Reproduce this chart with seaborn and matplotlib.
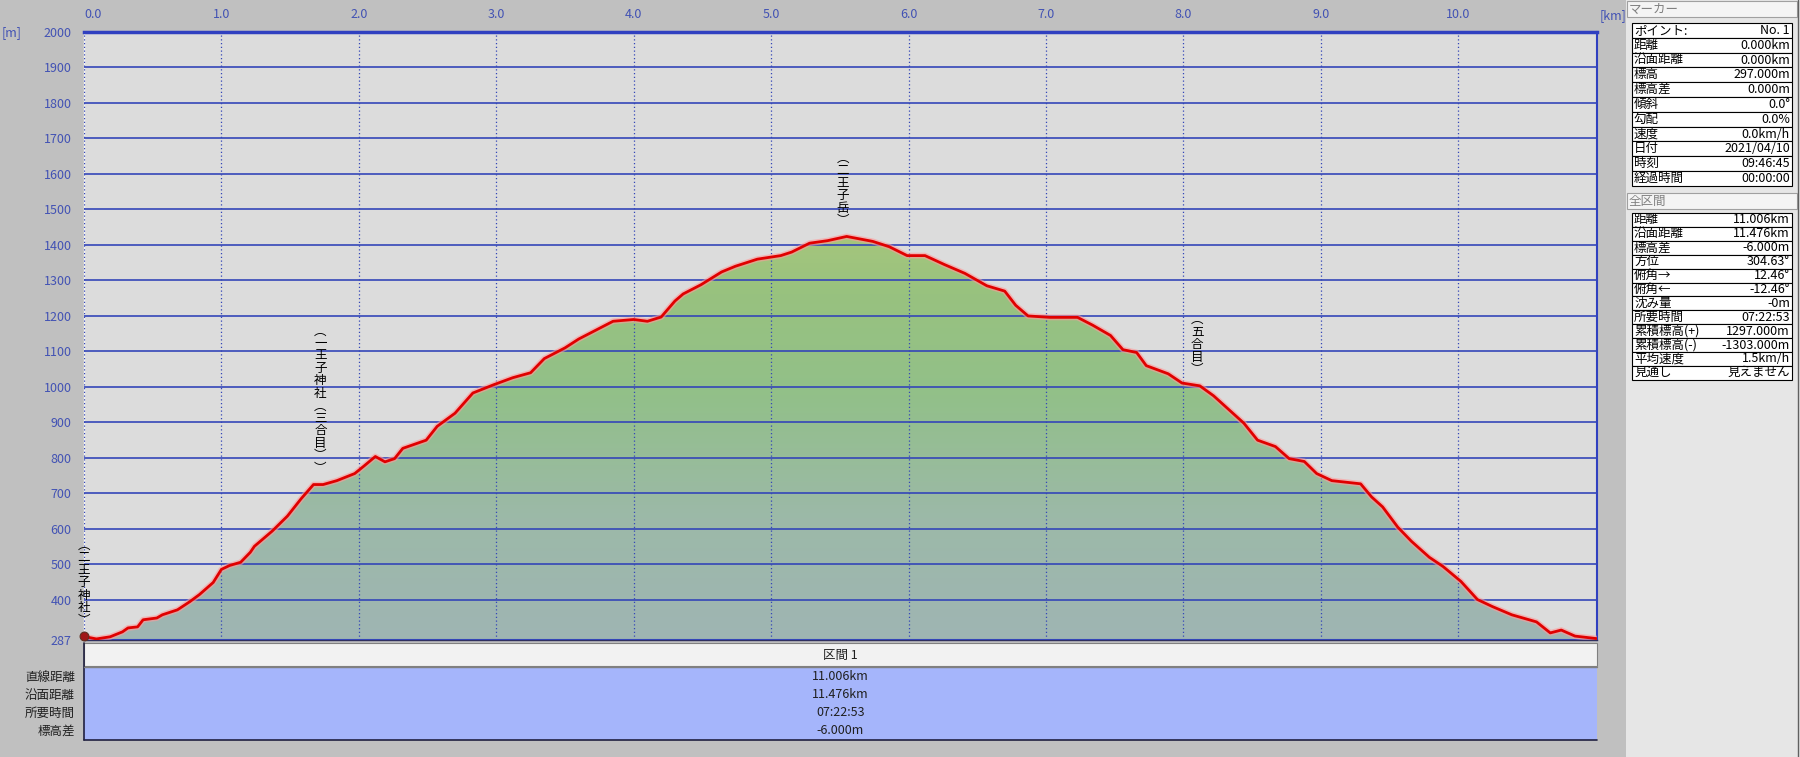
import numpy as np
import matplotlib
matplotlib.use("Agg")
import matplotlib.pyplot as plt
import seaborn as sns
from matplotlib.colors import LinearSegmentedColormap
from matplotlib.patches import Rectangle

# ---------------- data ----------------
dist_km = [0.0, 0.09, 0.19, 0.28, 0.32, 0.39, 0.43, 0.53, 0.57, 0.68, 0.77, 0.84, 0.94, 1.0,
           1.06, 1.14, 1.21, 1.24, 1.37, 1.48, 1.58, 1.67, 1.74, 1.84, 1.97, 2.04, 2.12, 2.19,
           2.26, 2.32, 2.49, 2.57, 2.70, 2.83, 2.98, 3.12, 3.25, 3.35, 3.5, 3.6, 3.75, 3.85,
           4.0, 4.1, 4.2, 4.30, 4.36, 4.49, 4.64, 4.74, 4.90, 5.07, 5.15, 5.28, 5.41, 5.55,
           5.74, 5.86, 5.99, 6.12, 6.26, 6.41, 6.57, 6.70, 6.78, 6.87, 7.03, 7.23, 7.34, 7.47,
           7.56, 7.66, 7.73, 7.89, 7.99, 8.12, 8.22, 8.36, 8.44, 8.54, 8.67, 8.77, 8.88, 8.97,
           9.08, 9.29, 9.37, 9.45, 9.56, 9.66, 9.79, 9.89, 10.02, 10.14, 10.25, 10.39, 10.57,
           10.67, 10.75, 10.85, 11.006]
elev_m = [297, 290, 296, 310, 321, 324, 344, 349, 358, 372, 395, 415, 449, 486,
          497, 506, 534, 551, 594, 636, 685, 725, 725, 736, 756, 778, 804, 789,
          798, 827, 850, 889, 926, 983, 1006, 1026, 1040, 1080, 1110, 1135, 1165, 1185,
          1190, 1185, 1197, 1242, 1262, 1288, 1324, 1340, 1360, 1370, 1380, 1405, 1412, 1424,
          1410, 1395, 1370, 1370, 1345, 1320, 1285, 1270, 1230, 1200, 1196, 1196, 1174, 1145,
          1105, 1097, 1060, 1037, 1011, 1003, 975, 926, 898, 850, 832, 798, 790, 756,
          736, 727, 690, 662, 605, 565, 520, 494, 452, 401, 381, 358, 338,
          307, 315, 298, 291]

poi_names = ["(二王子神社)", "(一王子神社(三合目))", "(二王子岳)", "(五合目)"]
poi_km = [0.0, 1.72, 5.52, 8.10]
poi_elev = [297, 725, 1422, 1003]

y_ticks = [287, 400, 500, 600, 700, 800, 900, 1000, 1100, 1200, 1300, 1400,
           1500, 1600, 1700, 1800, 1900, 2000]
x_ticks = [0, 1, 2, 3, 4, 5, 6, 7, 8, 9, 10]
x_tick_labels = ["0.0", "1.0", "2.0", "3.0", "4.0", "5.0", "6.0", "7.0", "8.0", "9.0", "10.0"]

marker_labels = ["ポイント:", "距離", "沿面距離", "標高", "標高差", "傾斜", "勾配", "速度",
                 "日付", "時刻", "経過時間"]
marker_values = ["No. 1", "0.000km", "0.000km", "297.000m", "0.000m", "0.0°", "0.0%",
                 "0.0km/h", "2021/04/10", "09:46:45", "00:00:00"]
total_labels = ["距離", "沿面距離", "標高差", "方位", "俯角→", "俯角←", "沈み量", "所要時間",
                "累積標高(+)", "累積標高(-)", "平均速度", "見通し"]
total_values = ["11.006km", "11.476km", "-6.000m", "304.63°", "12.46°", "-12.46°", "-0m",
                "07:22:53", "1297.000m", "-1303.000m", "1.5km/h", "見えません"]
section_title = "区間 1"
section_row_labels = ["直線距離", "沿面距離", "所要時間", "標高差"]
section_values = ["11.006km", "11.476km", "07:22:53", "-6.000m"]

# ---------------- style ----------------
sns.set_theme(style="white")
plt.rcParams["font.family"] = ["Noto Sans CJK JP", "DejaVu Sans"]

W, H = 1800, 757
fig = plt.figure(figsize=(W / 100, H / 100), dpi=100, facecolor="#c0c0c0")

TICK_BLUE = "#4252b4"
GRID_BLUE = "#3446b8"
FS = 9

# background / decoration axes in pixel coordinates
bg = fig.add_axes([0, 0, 1, 1])
bg.set_xlim(0, W)
bg.set_ylim(H, 0)
bg.axis("off")

# plot area pixel box
PL, PR, PT, PB = 84, 1597, 32, 640

# axis unit labels
bg.text(2, 33, "[m]", color=TICK_BLUE, fontsize=FS, va="center", ha="left")
bg.text(1600, 16, "[km]", color=TICK_BLUE, fontsize=FS, va="center", ha="left")

# section table below the plot
bg.add_patch(Rectangle((PL, 643), PR - PL, 23, fc="#f2f2f2", ec="#808080", lw=0.8))
bg.text((PL + PR) / 2, 655, section_title, fontsize=FS, ha="center", va="center", color="#202020")
bg.add_patch(Rectangle((PL, 667), PR - PL, 73, fc="#a5b5fb", ec="none"))
bg.plot([PL, PR], [740, 740], color="#202040", lw=1.2)
bg.plot([PL, PL], [643, 740], color="#202040", lw=1.2)
bg.plot([PL, PR], [667, 667], color="#808080", lw=1)
for i, (lab, val) in enumerate(zip(section_row_labels, section_values)):
    yc = 677 + i * 18
    bg.text(75, yc, lab, fontsize=FS, ha="right", va="center", color="#202020")
    bg.text((PL + PR) / 2, yc, val, fontsize=FS, ha="center", va="center", color="#202020")

# right panel
bg.add_patch(Rectangle((1626, 0), W - 1626, H, fc="#e6e6e6", ec="none"))


def header(y0, text):
    bg.add_patch(Rectangle((1627, y0), 170, 16, fc="#f4f4f4", ec="#a0a0a0", lw=0.8))
    bg.text(1629, y0 + 8.5, text, fontsize=FS, color="#808080", ha="left", va="center")


def table(top, rowh, labels, values):
    for i, (lab, val) in enumerate(zip(labels, values)):
        y0 = top + i * rowh
        bg.add_patch(Rectangle((1632, y0), 160, rowh, fc="white", ec="black", lw=0.8))
        bg.text(1634, y0 + rowh / 2, lab, fontsize=FS, ha="left", va="center", color="black")
        bg.text(1790, y0 + rowh / 2, val, fontsize=FS, ha="right", va="center", color="black")


header(1, "マーカー")
table(23, 14.8, marker_labels, marker_values)
header(193, "全区間")
table(213, 13.9, total_labels, total_values)
bg.plot([1798, 1798], [0, H], color="#606060", lw=1)

# ---------------- main profile axes ----------------
ax = fig.add_axes([PL / W, 1 - PB / H, (PR - PL) / W, (PB - PT) / H])
ax.set_facecolor("#dcdcdc")

# gradient fill under the profile
cmap = LinearSegmentedColormap.from_list(
    "prof", [(0.0, "#9fb5b3"), (0.3, "#9cb9a8"), (0.6, "#92c089"), (0.85, "#98c27f"), (1.0, "#a6c67c")])
ymax_fill = max(elev_m) + 10
grad = np.linspace(0, 1, 256).reshape(-1, 1)
poly = ax.fill_between(dist_km, elev_m, y_ticks[0], color="none", lw=0)
im = ax.imshow(grad, extent=[dist_km[0], dist_km[-1], y_ticks[0], ymax_fill], aspect="auto",
               origin="lower", cmap=cmap, zorder=2, interpolation="bilinear")
im.set_clip_path(poly.get_paths()[0], ax.transData)

# grid
for yv in y_ticks[1:-1]:
    ax.axhline(yv, color=GRID_BLUE, lw=1.2, zorder=3)
ax.axhline(y_ticks[0], color=GRID_BLUE, lw=1.5, zorder=3)
for xv in x_ticks:
    ax.axvline(xv, color=GRID_BLUE, lw=0.9, ls=(0, (1, 2)), zorder=3)

# profile line (halo + line)
sns.lineplot(x=dist_km, y=elev_m, ax=ax, color="#ff9a9a", lw=4.2, alpha=0.6, zorder=4,
             estimator=None, sort=False)
sns.lineplot(x=dist_km, y=elev_m, ax=ax, color="#e00000", lw=2.0, zorder=5,
             estimator=None, sort=False)

# start marker
sns.scatterplot(x=[dist_km[0]], y=[elev_m[0]], ax=ax, color="#a01818", s=40, zorder=6,
                edgecolor="#603020", linewidth=0.8, clip_on=False)


def vertical(s):
    s = s.replace("(", "︵").replace(")", "︶")
    return "\n".join(list(s))


for name, xk, ye in zip(poi_names, poi_km, poi_elev):
    ax.annotate(vertical(name), xy=(xk, ye), xytext=(0, 7), textcoords="offset points",
                ha="center", va="bottom", fontsize=9, linespacing=0.95, color="black",
                zorder=7, annotation_clip=False)

ax.set_xlim(0, 11.01)
ax.set_ylim(y_ticks[0], y_ticks[-1])

ax.xaxis.tick_top()
ax.set_xticks(x_ticks)
ax.set_xticklabels(x_tick_labels)
ax.set_yticks(y_ticks)
ax.set_yticklabels([str(v) for v in y_ticks])
ax.tick_params(axis="x", length=0, pad=8, labelsize=FS, labelcolor=TICK_BLUE)
ax.tick_params(axis="y", length=0, pad=9, labelsize=FS, labelcolor=TICK_BLUE)
ax.get_xticklabels()[0].set_horizontalalignment("left")
ax.set_xlabel("")
ax.set_ylabel("")

for side, sp in ax.spines.items():
    sp.set_visible(True)
ax.spines["top"].set_color("#3040c0")
ax.spines["top"].set_linewidth(2.5)
ax.spines["right"].set_color("#3040c0")
ax.spines["right"].set_linewidth(1.5)
ax.spines["left"].set_color("#f4f4f4")
ax.spines["left"].set_linewidth(1.0)
ax.spines["bottom"].set_color("#303060")
ax.spines["bottom"].set_linewidth(1.0)
ax.grid(False)

fig.savefig("out.png", dpi=100, facecolor=fig.get_facecolor())
